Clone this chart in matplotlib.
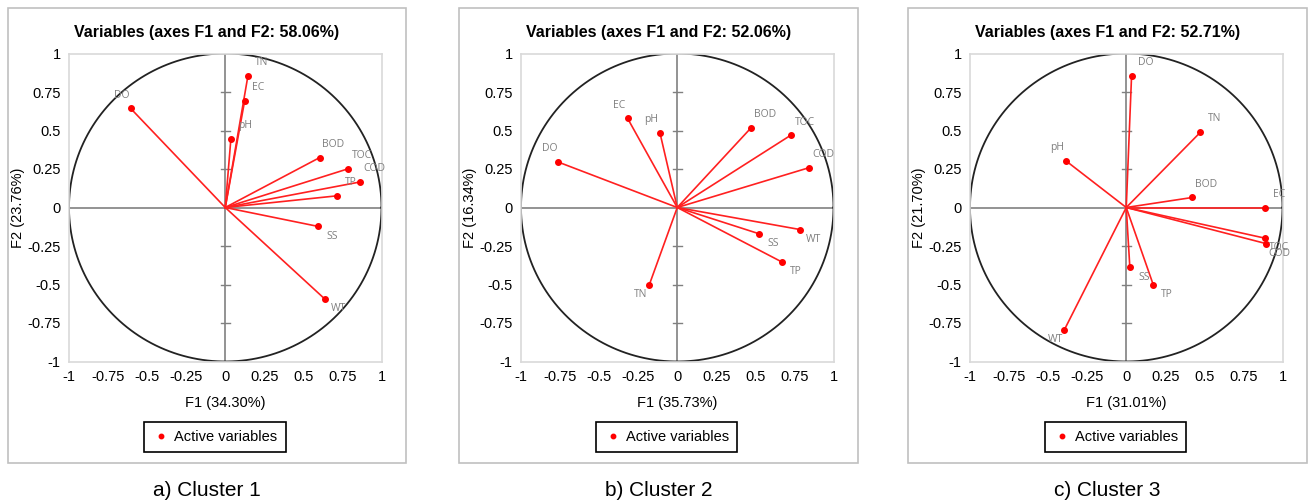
import numpy as np
import matplotlib
matplotlib.use('Agg')
import matplotlib.pyplot as plt
from matplotlib.patches import Rectangle

plt.rcParams['font.family'] = ['Liberation Sans', 'DejaVu Sans']

# loadings
names1 = ['TN', 'EC', 'pH', 'DO', 'BOD', 'TOC', 'COD', 'TP', 'SS', 'WT']
f1_c1 = [0.145, 0.124, 0.036, -0.606, 0.604, 0.785, 0.864, 0.717, 0.595, 0.638]
f2_c1 = [0.854, 0.692, 0.445, 0.644, 0.324, 0.251, 0.166, 0.076, -0.123, -0.595]

names2 = ['EC', 'pH', 'DO', 'BOD', 'TOC', 'COD', 'WT', 'SS', 'TP', 'TN']
f1_c2 = [-0.318, -0.111, -0.764, 0.472, 0.726, 0.845, 0.785, 0.525, 0.672, -0.179]
f2_c2 = [0.579, 0.486, 0.296, 0.517, 0.469, 0.259, -0.143, -0.171, -0.355, -0.502]

names3 = ['DO', 'TN', 'pH', 'BOD', 'EC', 'TOC', 'COD', 'SS', 'TP', 'WT']
f1_c3 = [0.034, 0.475, -0.386, 0.422, 0.887, 0.887, 0.893, 0.023, 0.173, -0.397]
f2_c3 = [0.854, 0.489, 0.303, 0.065, 0.0, -0.199, -0.234, -0.389, -0.502, -0.796]

titles = ['Variables (axes F1 and F2: 58.06%)',
          'Variables (axes F1 and F2: 52.06%)',
          'Variables (axes F1 and F2: 52.71%)']
xlabels = ['F1 (34.30%)', 'F1 (35.73%)', 'F1 (31.01%)']
ylabels = ['F2 (23.76%)', 'F2 (16.34%)', 'F2 (21.70%)']
captions = ['a) Cluster 1', 'b) Cluster 2', 'c) Cluster 3']
ticks = [-1, -0.75, -0.5, -0.25, 0, 0.25, 0.5, 0.75, 1]
tick_labels = ['-1', '-0.75', '-0.5', '-0.25', '0', '0.25', '0.5', '0.75', '1']

data = [(names1, f1_c1, f2_c1), (names2, f1_c2, f2_c2), (names3, f1_c3, f2_c3)]

W, H = 1309, 504
fig = plt.figure(figsize=(W / 100, H / 100), dpi=100)

# pixel layout of each panel: frame left/right, axes left/right
frames = [(8, 406), (459, 858), (908, 1307)]
axes_lr = [(69, 381.5), (521, 833.5), (970, 1282.5)]
ax_top, ax_bot = 53.5, 361.5

for i in range(3):
    fl, fr = frames[i]
    fig.patches.append(Rectangle((fl / W, 1 - 463 / H), (fr - fl) / W, (463 - 8) / H,
                                 transform=fig.transFigure, fill=False,
                                 edgecolor='#c0c0c0', lw=1.2))
    al, ar = axes_lr[i]
    ax = fig.add_axes([al / W, 1 - ax_bot / H, (ar - al) / W, (ax_bot - ax_top) / H])
    ax.set_xlim(-1, 1)
    ax.set_ylim(-1, 1)
    for s in ax.spines.values():
        s.set_color('#d9d9d9')
        s.set_linewidth(1.2)
    ax.set_xticks(ticks)
    ax.set_xticklabels(tick_labels)
    ax.set_yticks(ticks)
    ax.set_yticklabels(tick_labels)
    ax.tick_params(length=0, labelsize=10.5, pad=6)

    # center lines with small ticks on the vertical one
    ax.axhline(0, color='#808080', lw=1.2)
    ax.axvline(0, color='#808080', lw=1.2)
    for t in ticks[1:-1]:
        if t != 0:
            ax.plot([-0.03, 0.03], [t, t], color='#808080', lw=1)

    th = np.linspace(0, 2 * np.pi, 400)
    ax.plot(np.cos(th), np.sin(th), color='#222222', lw=1.3)

    names, xs, ys = data[i]
    for j, (n, x, y) in enumerate(zip(names, xs, ys)):
        ax.plot([0, x], [0, y], color='#ff2020', lw=1.2)
        ax.plot(x, y, 'o', color='#ff0000', ms=4,
                label='Active variables' if j == 0 else None)
        dx = 10 if x >= 0 else -6
        dy = 9.5 if y >= 0 else -7
        ax.annotate(n, (x, y), xytext=(dx, dy), textcoords='offset points',
                    ha='center', va='center', fontsize=7.5, color='#7f7f7f',
                    family=['Open Sans', 'DejaVu Sans'])

    ax.set_xlabel(xlabels[i], fontsize=10.5)
    ax.xaxis.set_label_coords(0.5, -35 / 308)
    ax.set_ylabel(ylabels[i], fontsize=10.5)
    ax.yaxis.set_label_coords(-44 / 312, 0.5)

    cx = (fl + fr) / 2
    fig.text(cx / W, 1 - 32 / H, titles[i], ha='center', va='center',
             fontsize=11.5, fontweight='bold')
    fig.text(cx / W, 1 - 490 / H, captions[i], ha='center', va='center', fontsize=15)

    leg = ax.legend(loc='center', bbox_to_anchor=((cx + 8) / W, 1 - 437 / H),
                    bbox_transform=fig.transFigure, fontsize=10.5, frameon=True,
                    fancybox=False, edgecolor='black', framealpha=1,
                    handlelength=1.2, handletextpad=0.3, borderpad=0.55,
                    borderaxespad=0, markerscale=0.8)
    leg.get_frame().set_linewidth(1.2)
    for h in leg.legend_handles:
        h.set_linestyle('none')

fig.savefig('out.png', dpi=100)
